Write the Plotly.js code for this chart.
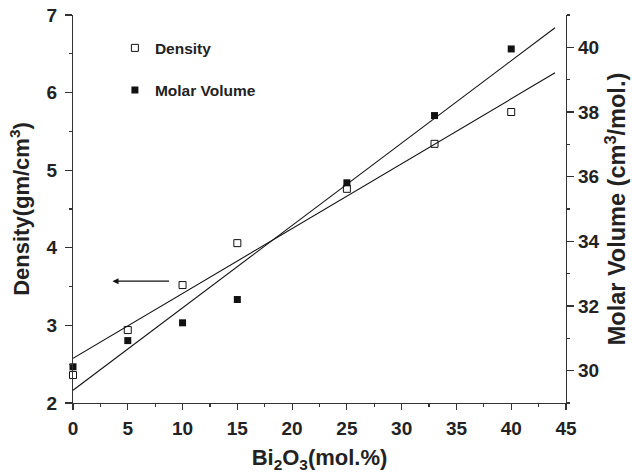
<!DOCTYPE html>
<html>
<head>
<meta charset="utf-8">
<script src="https://cdn.plot.ly/plotly-3.0.1.min.js"></script>
<style>
  html, body { margin: 0; padding: 0; background: #fff; }
  #chart { width: 632px; height: 473px; }
</style>
</head>
<body>
<div id="chart"></div>
<script>
// Bi2O3 content of the glasses (mol.%)
const bi2o3 = [0, 5, 10, 15, 25, 33, 40];
// Measured density (gm/cm^3) - left axis
const density = [2.36, 2.94, 3.52, 4.06, 4.76, 5.34, 5.75];
// Molar volume (cm^3/mol.) - right axis
const molarVolume = [30.12, 30.93, 31.48, 32.20, 35.81, 37.89, 39.95];
// Extent of the fitted straight lines along the composition axis
const fitSpan = [0, 44];

// Ordinary least-squares line through (xs, ys), evaluated at the span ends
function linearFit(xs, ys, span) {
  const n = xs.length;
  const mx = xs.reduce((a, b) => a + b, 0) / n;
  const my = ys.reduce((a, b) => a + b, 0) / n;
  let sxy = 0, sxx = 0;
  for (let i = 0; i < n; i++) {
    sxy += (xs[i] - mx) * (ys[i] - my);
    sxx += (xs[i] - mx) * (xs[i] - mx);
  }
  const slope = sxy / sxx;
  const icpt = my - slope * mx;
  return { x: span.slice(), y: span.map(v => icpt + slope * v) };
}

const densityFit = linearFit(bi2o3, density, fitSpan);
const volumeFit = linearFit(bi2o3, molarVolume, fitSpan);

const FONT = 'Liberation Sans, Arial, Helvetica, sans-serif';
const INK = '#222';

const traces = [
  {
    x: densityFit.x, y: densityFit.y, xaxis: 'x', yaxis: 'y',
    mode: 'lines', line: { color: '#111', width: 1.1 },
    showlegend: false, hoverinfo: 'skip'
  },
  {
    x: volumeFit.x, y: volumeFit.y, xaxis: 'x', yaxis: 'y2',
    mode: 'lines', line: { color: '#111', width: 1.1 },
    showlegend: false, hoverinfo: 'skip'
  },
  {
    name: 'Density', legendgroup: 'd',
    x: bi2o3, y: density, xaxis: 'x', yaxis: 'y',
    mode: 'markers', cliponaxis: false,
    marker: { symbol: 'square-open', size: 7, color: '#111', line: { width: 1, color: '#111' } }
  },
  {
    name: 'Molar Volume', legendgroup: 'm',
    x: bi2o3, y: molarVolume, xaxis: 'x', yaxis: 'y2',
    mode: 'markers', cliponaxis: false,
    marker: { symbol: 'square', size: 7, color: '#111' }
  }
];

const tickFont = { family: FONT, size: 19, color: INK, weight: 'bold' };
const titleFont = { family: FONT, size: 22, color: INK, weight: 'bold' };

const layout = {
  width: 632, height: 473,
  margin: { l: 73, r: 66, t: 15, b: 70 },
  paper_bgcolor: '#fff', plot_bgcolor: '#fff',
  showlegend: true,
  legend: {
    x: 0.085, y: 0.958, xanchor: 'left', yanchor: 'top',
    font: { family: FONT, size: 15.5, color: INK, weight: 'bold' },
    bgcolor: 'rgba(0,0,0,0)', borderwidth: 0,
    traceorder: 'grouped', tracegroupgap: 19
  },
  xaxis: {
    range: [0, 45], dtick: 5, tick0: 0,
    showline: true, linecolor: '#333', linewidth: 1.2,
    ticks: 'outside', ticklen: 6, tickwidth: 1.2, tickcolor: '#333',
    minor: { dtick: 2.5, ticks: 'outside', ticklen: 3, tickwidth: 1.2, tickcolor: '#333' },
    showgrid: false, zeroline: false,
    tickfont: tickFont, ticklabelstandoff: 2,
    title: { text: 'Bi<sub>2</sub>O<sub>3</sub>(mol.%)', font: titleFont, standoff: 13 }
  },
  xaxis2: {
    overlaying: 'x', matches: 'x', side: 'top', anchor: 'y',
    range: [0, 45], dtick: 5, tick0: 0,
    showline: true, linecolor: '#333', linewidth: 1.2,
    ticks: 'inside', ticklen: 6, tickwidth: 1.2, tickcolor: '#333',
    minor: { dtick: 2.5, ticks: 'inside', ticklen: 3, tickwidth: 1.2, tickcolor: '#333' },
    showticklabels: false, showgrid: false, zeroline: false
  },
  yaxis: {
    range: [2, 7], dtick: 1,
    showline: true, linecolor: '#333', linewidth: 1.2,
    ticks: 'outside', ticklen: 7, tickwidth: 1.2, tickcolor: '#333',
    minor: { dtick: 0.5, ticks: 'outside', ticklen: 3, tickwidth: 1.2, tickcolor: '#333' },
    showgrid: false, zeroline: false,
    tickfont: tickFont, ticklabelstandoff: 4,
    title: { text: 'Density(gm/cm<sup>3</sup>)', font: titleFont, standoff: 10 }
  },
  yaxis2: {
    overlaying: 'y', side: 'right', anchor: 'x',
    range: [29, 41], dtick: 2, tick0: 30,
    showline: true, linecolor: '#333', linewidth: 1.2,
    ticks: 'outside', ticklen: 7, tickwidth: 1.2, tickcolor: '#333',
    minor: { dtick: 1, ticks: 'outside', ticklen: 3, tickwidth: 1.2, tickcolor: '#333' },
    showgrid: false, zeroline: false,
    tickfont: tickFont,
    title: { text: 'Molar Volume (cm<sup>3</sup>/mol.)', font: { family: FONT, size: 23.5, color: INK, weight: 'bold' }, standoff: 10 }
  },
  annotations: [
    {
      // arrow pointing the density data towards the left-hand axis
      x: 3.6, y: 3.57, xref: 'x', yref: 'y',
      ax: 8.9, ay: 3.57, axref: 'x', ayref: 'y',
      text: '', showarrow: true,
      arrowhead: 2, arrowsize: 1.1, arrowwidth: 1.1, arrowcolor: '#111'
    }
  ]
};

Plotly.newPlot('chart', traces, layout, { staticPlot: true, displayModeBar: false });
</script>
</body>
</html>
